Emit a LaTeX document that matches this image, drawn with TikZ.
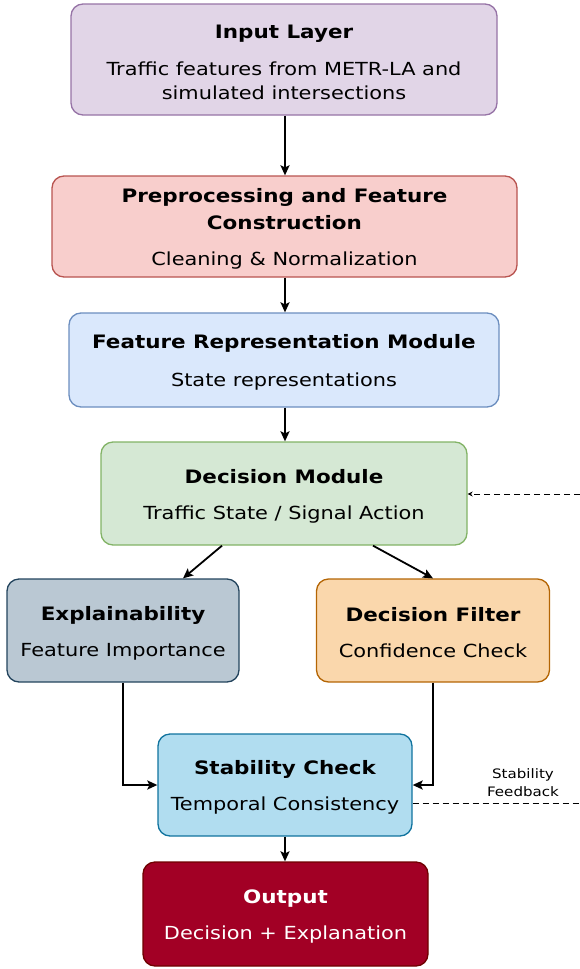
\documentclass[tikz,border=0pt]{standalone}
\usepackage{fontspec}
\setmainfont{DejaVu Sans}[FakeStretch=1.16, BoldFeatures={FakeStretch=1.16}]
\usetikzlibrary{arrows.meta}
\definecolor{inF}{HTML}{E1D5E7}\definecolor{inD}{HTML}{9673A6}
\definecolor{prF}{HTML}{F8CECC}\definecolor{prD}{HTML}{B85450}
\definecolor{frF}{HTML}{DAE8FC}\definecolor{frD}{HTML}{6C8EBF}
\definecolor{dmF}{HTML}{D5E8D4}\definecolor{dmD}{HTML}{82B366}
\definecolor{exF}{HTML}{BAC8D3}\definecolor{exD}{HTML}{23445D}
\definecolor{dfF}{HTML}{FAD7AC}\definecolor{dfD}{HTML}{B46504}
\definecolor{scF}{HTML}{B1DDF0}\definecolor{scD}{HTML}{10739E}
\definecolor{ouF}{HTML}{A20025}\definecolor{ouD}{HTML}{6F0000}
\tikzset{
  box/.style={draw, line width=1.3pt, rounded corners=12pt, align=center, inner sep=0pt,
    font=\fontsize{18}{24}\selectfont},
  conn/.style={line width=1.8pt, -{Stealth[length=10pt,width=9pt,inset=2pt]}},
  fb/.style={line width=0.8pt, dash pattern=on 6pt off 4pt},
}
\newcommand{\ttl}[1]{{\fontsize{18.5}{27}\selectfont\bfseries\rule{0pt}{19pt}#1}}
\begin{document}
\begin{tikzpicture}[x=1pt,y=-1pt]
\useasboundingbox (0,0) rectangle (580,969);
\node[box, fill=inF, draw=inD, minimum width=426pt, minimum height=111pt] (in) at (284,59.5)
  {\ttl{Input Layer}\\[13pt] Traffic features from METR-LA and\\ simulated intersections};
\node[box, fill=prF, draw=prD, minimum width=465pt, minimum height=101pt] (pr) at (284.5,226.5)
  {\ttl{Preprocessing and Feature}\\[3pt] \ttl{Construction}\\[12pt] Cleaning \& Normalization};
\node[box, fill=frF, draw=frD, minimum width=430pt, minimum height=94pt] (fr) at (284,360)
  {\ttl{Feature Representation Module}\\[14pt] State representations};
\node[box, fill=dmF, draw=dmD, minimum width=366pt, minimum height=103pt] (dm) at (284,493.5)
  {\ttl{Decision Module}\\[12pt] Traffic State / Signal Action};
\node[box, fill=exF, draw=exD, minimum width=232pt, minimum height=103pt] (ex) at (123,630.5)
  {\ttl{Explainability}\\[12pt] Feature Importance};
\node[box, fill=dfF, draw=dfD, minimum width=233pt, minimum height=103pt] (df) at (433,630.5)
  {\ttl{Decision Filter}\\[12pt] Confidence Check};
\node[box, fill=scF, draw=scD, minimum width=254pt, minimum height=102pt] (sc) at (285,785)
  {\ttl{Stability Check}\\[12pt] Temporal Consistency};
\node[box, fill=ouF, draw=ouD, text=white, minimum width=285pt, minimum height=104pt] (ou) at (285.5,914)
  {\ttl{Output}\\[12pt] Decision + Explanation};
\coordinate (dmR) at (580,494);
\coordinate (scR) at (580,803);
\node[font=\fontsize{13}{18}\selectfont, align=center] (fbl) at (523,783) {Stability\\Feedback};
\draw[conn] ([xshift=1pt]in.south) -- ([xshift=1pt]in.south |- pr.north);
\draw[conn] ([xshift=0.5pt]pr.south) -- ([xshift=0.5pt]pr.south |- fr.north);
\draw[conn] ([xshift=1pt]fr.south) -- ([xshift=1pt]fr.south |- dm.north);
\draw[conn] ([xshift=-62pt]dm.south) -- ([xshift=60pt]ex.north);
\draw[conn] ([xshift=89pt]dm.south) -- (df.north);
\draw[conn] (ex.south) |- (sc.west);
\draw[conn] (df.south) |- (sc.east);
\draw[conn] (sc.south) -- (sc.south |- ou.north);
\draw[fb, -{Stealth[length=5pt,width=5pt]}] (dmR) -- (dm.east |- dmR);
\draw[fb] (sc.east |- scR) -- (scR);
\end{tikzpicture}
\end{document}
